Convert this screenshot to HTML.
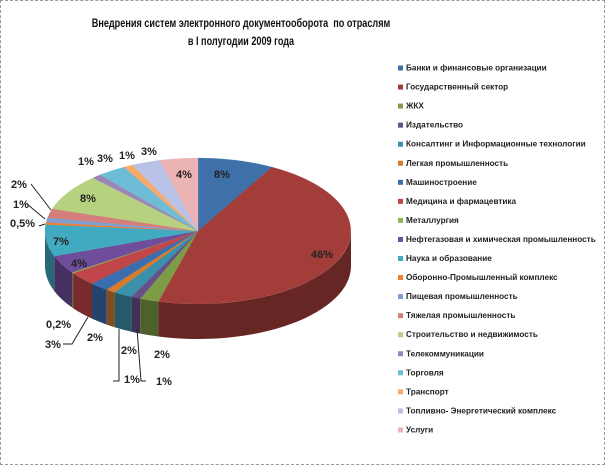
<!DOCTYPE html><html><head><meta charset="utf-8"><style>
body{margin:0;background:#fff}
#c{position:relative;width:603px;height:463px;border:1px dashed #999;overflow:hidden;font-family:"Liberation Sans",sans-serif}
.t{position:absolute;left:-10px;width:500px;text-align:center;font-weight:bold;font-size:12px;color:#111;transform:scaleX(0.76);transform-origin:250px 0}
</style></head><body><div id="c">
<div class="t" style="top:15px">Внедрения систем электронного документооборота&nbsp; по отраслям</div>
<div class="t" style="top:33px">в I полугодии 2009 года</div>
<svg id="s" width="603" height="463" style="position:absolute;left:0;top:0" font-family="Liberation Sans, sans-serif"></svg>
</div>
<script>
var d=[["Банки и финансовые организации",8,"#3e70aa"],["Государственный сектор",46,"#a33d3a"],["ЖКХ",2,"#7e9b45"],["Издательство",1,"#674f8a"],["Консалтинг и Информационные технологии",2,"#3a91a9"],["Легкая промышленность",1,"#d57c2e"],["Машиностроение",2,"#3b6eb0"],["Медицина и фармацевтика",3,"#c0464a"],["Металлургия",0.2,"#8fb552"],["Нефтегазовая и химическая промышленность",4,"#6f4d9a"],["Наука и образование",7,"#42aac0"],["Оборонно-Промышленный комплекс",0.5,"#f27d33"],["Пищевая промышленность",1,"#7f9fd0"],["Тяжелая промышленность",2,"#d47f7c"],["Строительство и недвижимость",8,"#b6d27f"],["Телекоммуникации",1,"#9a86b8"],["Торговля",3,"#6fbcd6"],["Транспорт",1,"#f9aa6b"],["Топливно- Энергетический комплекс",3,"#b9c2e6"],["Услуги",4,"#ebb3b3"]];
var tot=0;d.forEach(e=>tot+=e[1]);
var cx=197,cy=230,rx=153,ry=73,h=35,s='';
function dk(c,f){var n=parseInt(c.slice(1),16);return'rgb('+[(n>>16)&255,(n>>8)&255,n&255].map(v=>Math.round(v*f)).join(',')+')';}
function P(a,dy){return (cx+rx*Math.cos(a)).toFixed(1)+','+(cy+ry*Math.sin(a)+(dy||0)).toFixed(1);}
var cum=0,sl=[];d.forEach(e=>{var a0=-Math.PI/2+2*Math.PI*cum/tot;cum+=e[1];var a1=-Math.PI/2+2*Math.PI*cum/tot;sl.push([a0,a1,e[2]]);});
sl.forEach(q=>{var segs=[[q[0],q[1]],[q[0]-2*Math.PI,q[1]-2*Math.PI]];segs.forEach(g=>{var a=Math.max(g[0],0),b=Math.min(g[1],Math.PI);if(b<=a)return;var p='M'+P(a)+' A'+rx+','+ry+' 0 0 1 '+P(b)+' L'+P(b,h)+' A'+rx+','+ry+' 0 0 0 '+P(a,h)+' Z';s+='<path d="'+p+'" fill="'+dk(q[2],0.62)+'"/>';});});
sl.forEach(q=>{var big=(q[1]-q[0])>Math.PI?1:0;s+='<path d="M'+cx+','+cy+' L'+P(q[0])+' A'+rx+','+ry+' 0 '+big+' 1 '+P(q[1])+' Z" fill="'+q[2]+'" stroke="'+q[2]+'" stroke-width="0.3"/>';});
var L=[["8%",213,177],["46%",310,257],["4%",175,177],["3%",140,154],["1%",118,158],["3%",96,161],["1%",77,164],["8%",79,201],["2%",10,187],["1%",12,207],["0,5%",9,226],["7%",52,244],["4%",70,266],["0,2%",45,327],["3%",44,347],["2%",86,340],["2%",120,353],["2%",153,357],["1%",123,382],["1%",155,384]];
L.forEach(l=>{s+='<text x="'+l[1]+'" y="'+l[2]+'" font-size="11" font-weight="bold" fill="#222">'+l[0]+'</text>';});
var ln=[[30,183,50,209],[26,203,44,218],[38,225,44,223],[62,343,71,343,87,316],[112,380,118,380,118,328],[145,380,140,380,136,328]];
ln.forEach(a=>{var p='M'+a[0]+','+a[1];for(var i=2;i<a.length;i+=2)p+=' L'+a[i]+','+a[i+1];s+='<path d="'+p+'" stroke="#222" fill="none" stroke-width="1"/>';});
d.forEach((e,i)=>{var y=68+i*19.05;s+='<rect x="397" y="'+(y-3.5)+'" width="5" height="5" fill="'+e[2]+'"/><text x="405" y="'+(y+1.5)+'" font-size="8.2" font-weight="bold" fill="#222">'+e[0]+'</text>';});
document.getElementById('s').innerHTML=s;
</script></body></html>
